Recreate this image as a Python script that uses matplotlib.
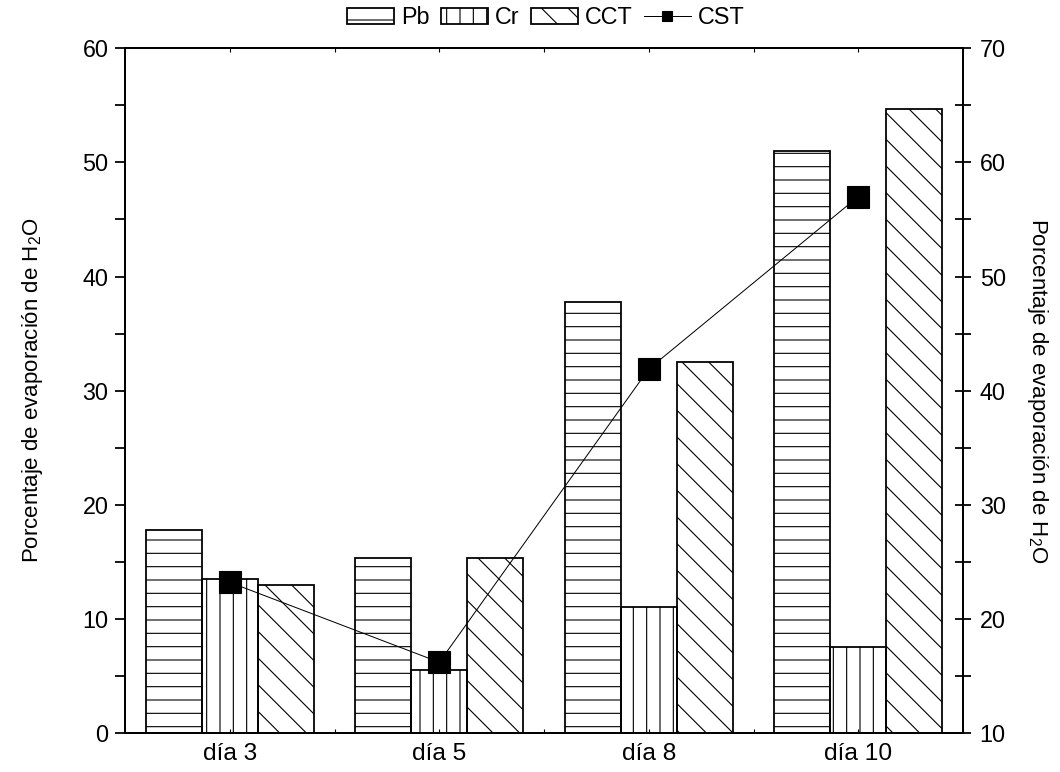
import numpy as np
import matplotlib.pyplot as plt
from matplotlib.ticker import MultipleLocator

plt.rcParams['font.family'] = ['Liberation Sans', 'DejaVu Sans']
plt.rcParams['mathtext.fontset'] = 'custom'
plt.rcParams['mathtext.rm'] = 'Liberation Sans'
plt.rcParams['mathtext.it'] = 'Liberation Sans:italic'
plt.rcParams['hatch.linewidth'] = 1.0
plt.rcParams['font.size'] = 21

days = ["día 3", "día 5", "día 8", "día 10"]
pb = [17.8, 15.3, 37.8, 51.0]
cr = [13.5, 5.5, 11.0, 7.5]
cct = [13.0, 15.3, 32.5, 54.7]
cst = [23.2, 16.2, 41.9, 57.0]

YLABEL = "Porcentaje de evaporación de H$_2$O"

fig = plt.figure(figsize=(13.25, 9.65), dpi=80)
ax = fig.add_axes([0.118, 0.0505, 0.7905, 0.887])

x = np.arange(len(days))
w = 0.267
kw = dict(fill=False, edgecolor='black', linewidth=1.6)
ax.bar(x - w, pb, w, hatch='-', label='Pb', **kw)
ax.bar(x, cr, w, hatch='|', label='Cr', **kw)
ax.bar(x + w, cct, w, hatch='\\', label='CCT', **kw)

ax.set_xlim(-0.5, 3.5)
ax.set_ylim(0, 60)
ax.set_xticks(x)
ax.set_xticklabels(days)
ax.xaxis.set_minor_locator(MultipleLocator(0.5))
ax.yaxis.set_major_locator(MultipleLocator(10))
ax.yaxis.set_minor_locator(MultipleLocator(5))
ax.tick_params(axis='x', which='both', direction='in', length=4, width=1,
               top=True, pad=9, labelsize=22)
ax.tick_params(axis='y', which='both', direction='out', length=9, width=1.6,
               right=False, pad=6)
ax.set_ylabel(YLABEL, fontsize=20, labelpad=34)
for s in ax.spines.values():
    s.set_linewidth(1.8)

ax2 = ax.twinx()
ax2.plot(x, cst, color='black', linewidth=0.9, marker='s', markersize=20,
         label='CST')
ax2.set_ylim(10, 70)
ax2.yaxis.set_major_locator(MultipleLocator(10))
ax2.yaxis.set_minor_locator(MultipleLocator(5))
ax2.tick_params(axis='y', which='both', direction='inout', length=14,
                width=1.6, pad=8)
ax2.set_ylabel(YLABEL, fontsize=20, rotation=-90, labelpad=40)

h1, l1 = ax.get_legend_handles_labels()
h2, l2 = ax2.get_legend_handles_labels()
fig.legend(h1 + h2, l1 + l2, loc='upper center', bbox_to_anchor=(0.515, 1.01),
           ncol=4, frameon=False, columnspacing=0.5, handletextpad=0.3,
           handlelength=2.0, borderaxespad=0.2, markerscale=0.45)

fig.savefig("out.png", dpi=80)
